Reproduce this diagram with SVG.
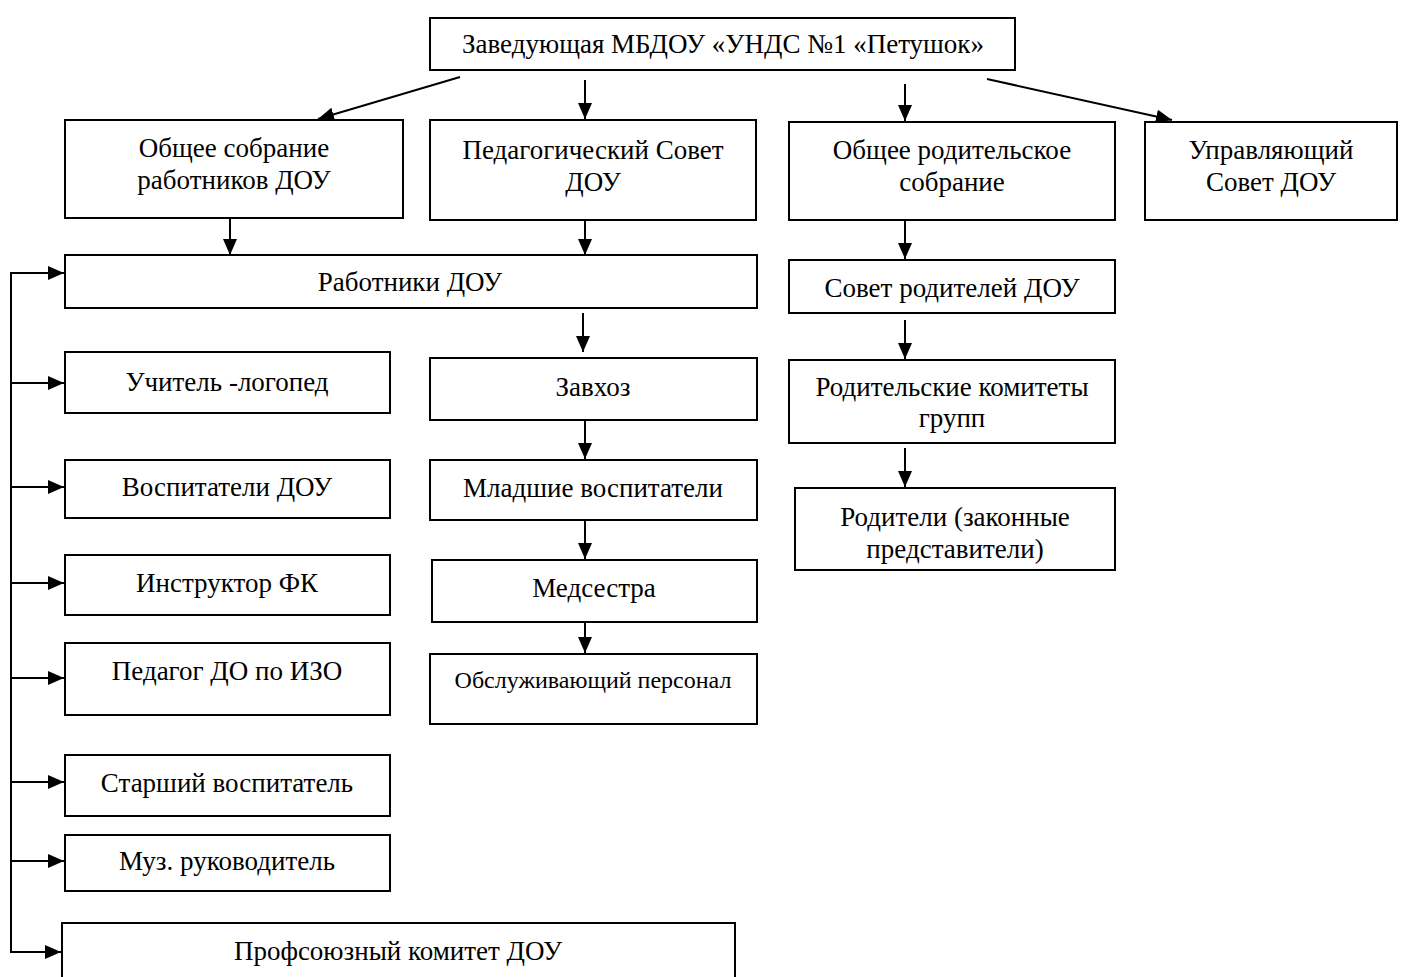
<svg xmlns="http://www.w3.org/2000/svg" width="1402" height="977" viewBox="0 0 1402 977">
<defs>
<marker id="ah" viewBox="0 0 16 14" refX="16" refY="7" markerWidth="16" markerHeight="14" markerUnits="userSpaceOnUse" orient="auto">
<path d="M0,0 L16,7 L0,14 Z" fill="#000"/>
</marker>
<style>
rect{fill:#fff;stroke:#000;stroke-width:2}
text{font-family:"Liberation Serif","Times New Roman",serif;font-size:27px;fill:#000;text-anchor:middle}
.s{font-size:24px}
.c line,.c path{stroke:#000;stroke-width:2;fill:none;marker-end:url(#ah)}
.c .n{marker-end:none}
</style>
</defs>
<rect x="0" y="0" width="1402" height="977" style="fill:#fff;stroke:none"/>
<g class="c" id="connectors">
<line x1="460" y1="77" x2="318" y2="119"/>
<line x1="585" y1="80" x2="585" y2="119"/>
<line x1="905" y1="84" x2="905" y2="121"/>
<line x1="987" y1="79" x2="1172" y2="120"/>
<line x1="230" y1="219" x2="230" y2="255"/>
<line x1="585" y1="221" x2="585" y2="255"/>
<line x1="583" y1="313" x2="583" y2="352"/>
<line x1="585" y1="420" x2="585" y2="459"/>
<line x1="585" y1="520" x2="585" y2="559"/>
<line x1="585" y1="612" x2="585" y2="653"/>
<line x1="905" y1="221" x2="905" y2="259"/>
<line x1="905" y1="320" x2="905" y2="359"/>
<line x1="905" y1="448" x2="905" y2="487"/>
<path class="n" d="M64,273 H11 V952 H60"/>
<line x1="11" y1="273" x2="64" y2="273"/>
<line x1="11" y1="383" x2="64" y2="383"/>
<line x1="11" y1="487" x2="64" y2="487"/>
<line x1="11" y1="583" x2="64" y2="583"/>
<line x1="11" y1="678" x2="64" y2="678"/>
<line x1="11" y1="782" x2="64" y2="782"/>
<line x1="11" y1="861" x2="64" y2="861"/>
<line x1="11" y1="952" x2="61" y2="952"/>
</g>
<g id="n-head"><rect x="430" y="18" width="585" height="52"/><text x="723" y="53">Заведующая МБДОУ «УНДС №1 «Петушок»</text></g>
<g id="n-obsh"><rect x="65" y="120" width="338" height="98"/><text x="234" y="157">Общее собрание</text><text x="234" y="189">работников ДОУ</text></g>
<g id="n-ped"><rect x="430" y="120" width="326" height="100"/><text x="593" y="159">Педагогический Совет</text><text x="593" y="191">ДОУ</text></g>
<g id="n-rod"><rect x="789" y="122" width="326" height="98"/><text x="952" y="159">Общее родительское</text><text x="952" y="191">собрание</text></g>
<g id="n-upr"><rect x="1145" y="122" width="252" height="98"/><text x="1271" y="159">Управляющий</text><text x="1271" y="191">Совет ДОУ</text></g>
<g id="n-rab"><rect x="65" y="255" width="692" height="53"/><text x="410" y="291">Работники ДОУ</text></g>
<g id="n-zavhoz"><rect x="430" y="358" width="327" height="62"/><text x="593" y="396">Завхоз</text></g>
<g id="n-mlad"><rect x="430" y="460" width="327" height="60"/><text x="593" y="497">Младшие воспитатели</text></g>
<g id="n-med"><rect x="432" y="560" width="325" height="62"/><text x="594" y="597">Медсестра</text></g>
<g id="n-obsl"><rect x="430" y="654" width="327" height="70"/><text class="s" x="593" y="688">Обслуживающий персонал</text></g>
<g id="n-sovrod"><rect x="789" y="260" width="326" height="53"/><text x="952" y="297">Совет родителей ДОУ</text></g>
<g id="n-komit"><rect x="789" y="360" width="326" height="83"/><text x="952" y="396">Родительские комитеты</text><text x="952" y="427">групп</text></g>
<g id="n-roditeli"><rect x="795" y="488" width="320" height="82"/><text x="955" y="526">Родители (законные</text><text x="955" y="558">представители)</text></g>
<g id="n-log"><rect x="65" y="352" width="325" height="61"/><text x="227" y="391">Учитель -логопед</text></g>
<g id="n-vosp"><rect x="65" y="460" width="325" height="58"/><text x="227" y="496">Воспитатели ДОУ</text></g>
<g id="n-fk"><rect x="65" y="555" width="325" height="60"/><text x="227" y="592">Инструктор ФК</text></g>
<g id="n-izo"><rect x="65" y="643" width="325" height="72"/><text x="227" y="680">Педагог ДО по ИЗО</text></g>
<g id="n-star"><rect x="65" y="755" width="325" height="61"/><text x="227" y="792">Старший воспитатель</text></g>
<g id="n-muz"><rect x="65" y="835" width="325" height="56"/><text x="227" y="870">Муз. руководитель</text></g>
<g id="n-prof"><rect x="62" y="923" width="673" height="70"/><text x="398" y="960">Профсоюзный комитет ДОУ</text></g>
</svg>
